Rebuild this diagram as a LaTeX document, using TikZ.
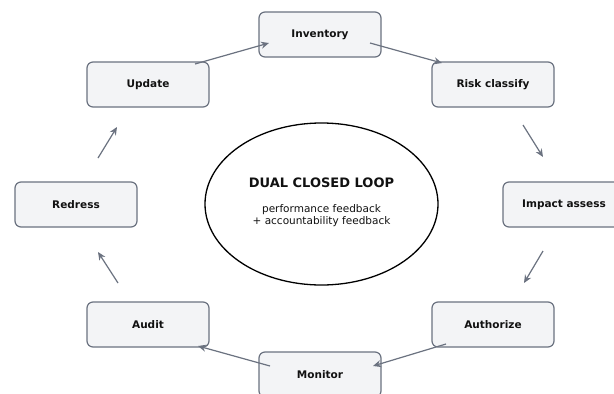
\documentclass[tikz,border=0pt]{standalone}
\usepackage{fontspec}
\setmainfont{DejaVu Sans}
\usetikzlibrary{arrows.meta,shapes.geometric}
\definecolor{boxfill}{HTML}{F3F4F6}
\definecolor{boxline}{HTML}{6B7280}
\definecolor{arrowc}{HTML}{6B7280}
\definecolor{txt}{HTML}{111111}
\tikzset{
  stagebox/.style={draw=boxline, fill=boxfill, line width=1.2pt, rounded corners=6pt,
    minimum width=122pt, minimum height=45pt, inner sep=0pt,
    font=\fontsize{10.5pt}{12pt}\selectfont\bfseries, text=txt},
  flow/.style={draw=arrowc, line width=1.2pt, -{Stealth[length=8pt,width=7pt]}},
}
\begin{document}
\begin{tikzpicture}[x=1pt,y=-1pt]
\useasboundingbox (0,0) rectangle (614,394);
\fill[white] (0,0) rectangle (614,394);
% centre ellipse
\node[ellipse, draw=black, line width=1.3pt, fill=white, minimum width=233pt, minimum height=162pt, inner sep=0pt] (core) at (321.5,204) {};
\node[font=\fontsize{13pt}{15pt}\selectfont\bfseries, text=txt] (title) at (321.5,183) {DUAL CLOSED LOOP};
\node[font=\fontsize{10.5pt}{11.5pt}\selectfont, text=txt, align=center] (sub) at (321.5,215.5) {performance feedback\\+ accountability feedback};
% stages
\node[stagebox] (inv) at (320,34.5) {Inventory};
\node[stagebox] (risk) at (493,84.5) {Risk classify};
\node[stagebox] (imp) at (564,204.5) {Impact assess};
\node[stagebox] (auth) at (493,324.5) {Authorize};
\node[stagebox] (mon) at (320,374.5) {Monitor};
\node[stagebox] (aud) at (148,324.5) {Audit};
\node[stagebox] (red) at (76,204.5) {Redress};
\node[stagebox] (upd) at (148,84.5) {Update};
% connector ends
\coordinate (a1s) at (370,43);  \coordinate (a1e) at (442,63);
\coordinate (a2s) at (523,125); \coordinate (a2e) at (543,157);
\coordinate (a3s) at (543,251); \coordinate (a3e) at (524,283);
\coordinate (a4s) at (446,344); \coordinate (a4e) at (373,366);
\coordinate (a5s) at (270,366); \coordinate (a5e) at (198,346);
\coordinate (a6s) at (118,283); \coordinate (a6e) at (98,252);
\coordinate (a7s) at (98,158);  \coordinate (a7e) at (117,127);
\coordinate (a8s) at (195,64);  \coordinate (a8e) at (269,43);
\draw[flow] (a1s) -- (a1e);
\draw[flow] (a2s) -- (a2e);
\draw[flow] (a3s) -- (a3e);
\draw[flow] (a4s) -- (a4e);
\draw[flow] (a5s) -- (a5e);
\draw[flow] (a6s) -- (a6e);
\draw[flow] (a7s) -- (a7e);
\draw[flow] (a8s) -- (a8e);
\end{tikzpicture}
\end{document}
